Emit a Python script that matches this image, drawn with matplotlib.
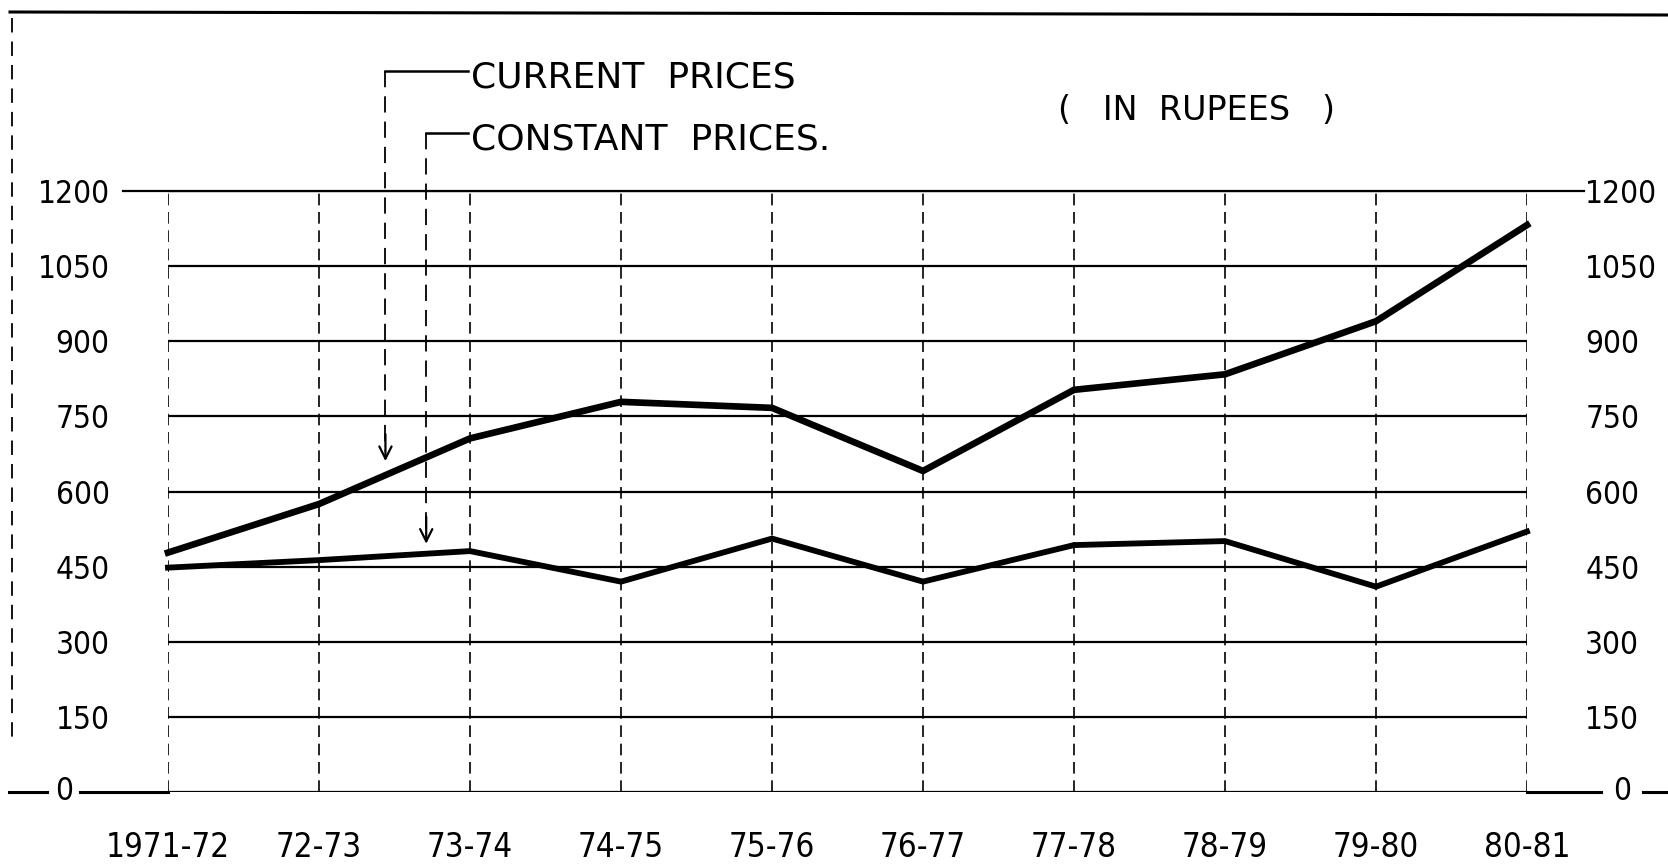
import os
import matplotlib
matplotlib.use("Agg")
import matplotlib.pyplot as plt
from matplotlib.lines import Line2D
from matplotlib import font_manager
from matplotlib.font_manager import FontProperties

# values (rupees)
years = ["1971-72", "72-73", "73-74", "74-75", "75-76",
         "76-77", "77-78", "78-79", "79-80", "80-81"]
current_prices = [478, 575, 706, 779, 767, 641, 803, 834, 940, 1132]
constant_prices = [448, 463, 481, 420, 506, 420, 493, 501, 410, 520]
y_ticks = [0, 150, 300, 450, 600, 750, 900, 1050, 1200]
y_labels = ["", "150", "300", "450", "600", "750", "900", "1050", "1200"]


def narrow_font():
    # look for a condensed / narrow face, else plain Roboto
    for f in font_manager.fontManager.ttflist:
        fn = os.path.basename(f.fname)
        if ('Narrow' in fn or 'Condensed' in fn) and 'Bold' not in fn \
                and 'Italic' not in fn and 'Oblique' not in fn and 'Light' not in fn:
            return FontProperties(fname=f.fname)
    return FontProperties(family=['Roboto', 'DejaVu Sans'])


W, H = 1668, 866
fig = plt.figure(figsize=(W / 100, H / 100), dpi=100)
renderer = fig.canvas.get_renderer()
base = narrow_font()


def sized(text, target_px):
    fp = base.copy()
    fp.set_size(20)
    t = fig.text(0, 0, text, fontproperties=fp)
    w = t.get_window_extent(renderer).width
    t.remove()
    fp.set_size(20 * target_px / w)
    return fp


xfont = sized("1971-72", 124)
yfont = sized("1050", 72)

ax = fig.add_axes([168 / W, 1 - 792 / H, (1527 - 168) / W, (792 - 191) / H])

x = list(range(len(years)))
ax.set_xlim(0, len(years) - 1)
ax.set_ylim(0, 1200)

# grid: solid horizontals, dashed verticals
ax.hlines(y_ticks, 0, len(years) - 1, colors='k', lw=1.6, zorder=1)
ax.vlines(x, 0, 1200, colors='k', lw=1.2, linestyles=(0, (7, 4)), zorder=1)

# lines that run past the frame
ax.plot([-0.30, 9.38], [1200, 1200], color='k', lw=1.6, clip_on=False)
ax.plot([-1.05, -0.80], [0, 0], color='k', lw=2.2, clip_on=False)
ax.plot([-0.58, 0], [0, 0], color='k', lw=2.2, clip_on=False)
ax.plot([9, 9.49], [0, 0], color='k', lw=2.2, clip_on=False)
ax.plot([9.77, 9.95], [0, 0], color='k', lw=2.2, clip_on=False)

ax.plot(x, current_prices, color='k', lw=4.8, solid_joinstyle='miter',
        clip_on=False, zorder=3)
ax.plot(x, constant_prices, color='k', lw=4.2, solid_joinstyle='miter',
        clip_on=False, zorder=3)

# ticks / labels
ax.set_xticks(x)
ax.set_xticklabels(years, fontproperties=xfont)
ax.set_yticks(y_ticks)
ax.set_yticklabels(y_labels, fontproperties=yfont)
ax.tick_params(axis='x', length=0, pad=28)
ax.tick_params(axis='y', length=0, pad=42, labelleft=True, labelright=True)
for t in ax.yaxis.get_major_ticks():
    t.label2.set_fontproperties(yfont)
for spine in ax.spines.values():
    spine.set_visible(False)

ax.text(-0.69, 0, "0", fontproperties=yfont, ha='center', va='center')
ax.text(9.63, 0, "0", fontproperties=yfont, ha='center', va='center')

# legend drawn as pointers
dash = (0, (9, 5))
ax.plot([1.44, 1.44], [1440, 680], color='k', lw=1.3, ls=dash, clip_on=False)
ax.plot([1.44, 1.99], [1440, 1440], color='k', lw=1.8, clip_on=False)
ax.annotate('', xy=(1.44, 655), xytext=(1.44, 720),
            arrowprops=dict(arrowstyle='->', color='k', lw=1.6,
                            mutation_scale=22), annotation_clip=False)
ax.plot([1.71, 1.71], [1315, 515], color='k', lw=1.3, ls=dash, clip_on=False)
ax.plot([1.71, 1.99], [1315, 1315], color='k', lw=1.8, clip_on=False)
ax.annotate('', xy=(1.71, 490), xytext=(1.71, 555),
            arrowprops=dict(arrowstyle='->', color='k', lw=1.6,
                            mutation_scale=22), annotation_clip=False)

fig.text(471 / W, 1 - 77 / H, "CURRENT  PRICES", fontsize=26,
         family='DejaVu Sans', va='center', ha='left')
fig.text(471 / W, 1 - 139 / H, "CONSTANT  PRICES.", fontsize=26,
         family='DejaVu Sans', va='center', ha='left')
fig.text(1197 / W, 1 - 110 / H, "(   IN  RUPEES   )", fontsize=24,
         family='DejaVu Sans', va='center', ha='center')

# page border bits
fig.add_artist(Line2D([0.006, 1.0], [1 - 12 / H, 1 - 15 / H], color='k', lw=2.2))
fig.add_artist(Line2D([12 / W, 12 / W], [1 - 18 / H, 1 - 745 / H],
                      color='k', lw=1.3, ls=(0, (8, 5))))

fig.savefig("out.png", dpi=100, facecolor='white')
